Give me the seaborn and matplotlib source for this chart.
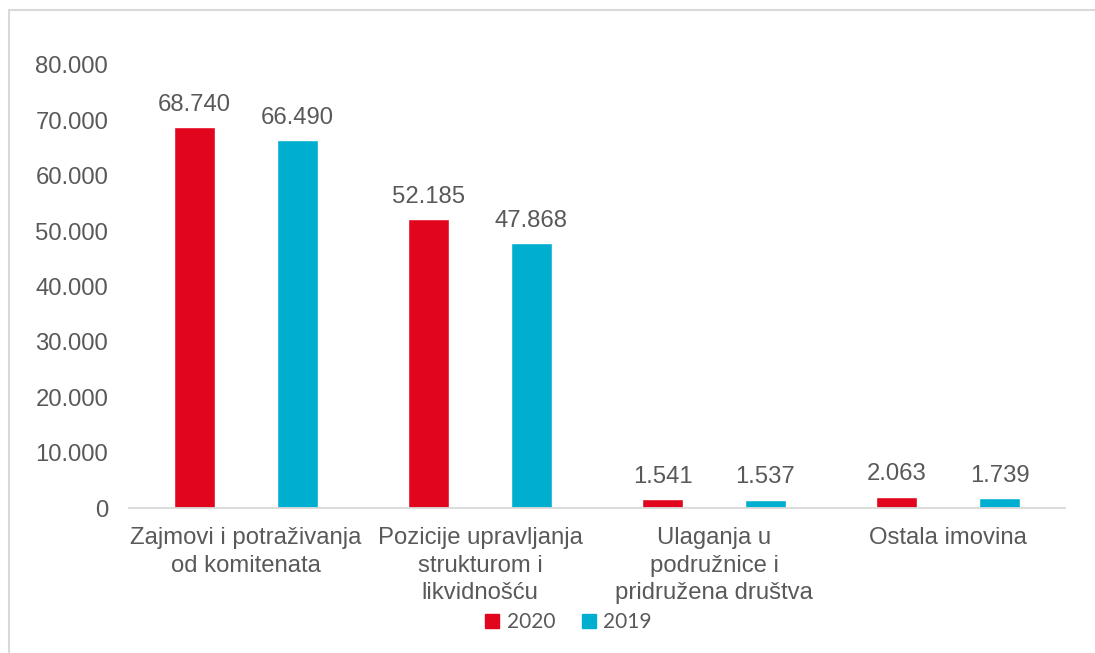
import seaborn as sns
import matplotlib.pyplot as plt
import pandas as pd
from matplotlib.lines import Line2D

# values
categories = [
    "Zajmovi i potraživanja\nod komitenata",
    "Pozicije upravljanja\nstrukturom i\nlikvidnošću",
    "Ulaganja u\npodružnice i\npridružena društva",
    "Ostala imovina",
]
values_2020 = [68740, 52185, 1541, 2063]
values_2019 = [66490, 47868, 1537, 1739]
years = ["2020", "2019"]
yticks = [0, 10000, 20000, 30000, 40000, 50000, 60000, 70000, 80000]

df = pd.DataFrame({
    "kategorija": categories * 2,
    "godina": [years[0]] * 4 + [years[1]] * 4,
    "iznos": values_2020 + values_2019,
})

red = "#E1061D"
blue = "#00AFCF"
grey = "#595959"


def hr_fmt(v):
    return f"{v:,.0f}".replace(",", ".")


sns.set_style("white")
plt.rcParams["font.family"] = ["Liberation Sans", "DejaVu Sans"]

fig = plt.figure(figsize=(10.95, 6.53), dpi=100)
ax = fig.add_axes([0.1178, 0.2220, 0.8548, 0.6785])

sns.barplot(
    data=df, x="kategorija", y="iznos", hue="godina",
    palette=[red, blue], width=0.88, gap=0.61,
    saturation=1, legend=False, ax=ax,
)

for cont in ax.containers:
    ax.bar_label(cont, labels=[hr_fmt(v) for v in cont.datavalues],
                 padding=8, fontsize=17.2, color=grey)

ax.set_ylim(0, 80000)
ax.set_yticks(yticks)
ax.set_yticklabels([hr_fmt(v) for v in yticks])
ax.set_xlim(-0.5, 3.5)
ax.set_xlabel("")
ax.set_ylabel("")
ax.tick_params(axis="y", length=0, pad=15, labelsize=17.2, labelcolor=grey)
ax.tick_params(axis="x", length=0, pad=14, labelsize=17.2, labelcolor=grey)
for lab in ax.get_xticklabels():
    lab.set_linespacing(1.3)

for side in ["left", "right", "top"]:
    ax.spines[side].set_visible(False)
ax.spines["bottom"].set_color("#D9D9D9")
ax.spines["bottom"].set_linewidth(1.3)

# legend at the bottom
handles = [
    Line2D([], [], marker="s", linestyle="", markersize=10.5, color=red, label=years[0]),
    Line2D([], [], marker="s", linestyle="", markersize=10.5, color=blue, label=years[1]),
]
leg = fig.legend(handles=handles, loc="center", bbox_to_anchor=(568 / 1095, 1 - 622 / 653),
                 ncol=2, frameon=False, handlelength=0.8, handletextpad=0.3,
                 columnspacing=1.2, prop={"family": ["Lato", "DejaVu Sans"], "size": 15})
for t in leg.get_texts():
    t.set_color(grey)

# chart frame (only top and left edges show in the picture)
fig.add_artist(Line2D([9 / 1095, 1], [1 - 9.5 / 653] * 2, color="#D9D9D9", lw=1.5,
                      transform=fig.transFigure))
fig.add_artist(Line2D([9 / 1095] * 2, [0, 1 - 9.5 / 653], color="#D9D9D9", lw=1.5,
                      transform=fig.transFigure))

fig.savefig("out.png", dpi=100)
